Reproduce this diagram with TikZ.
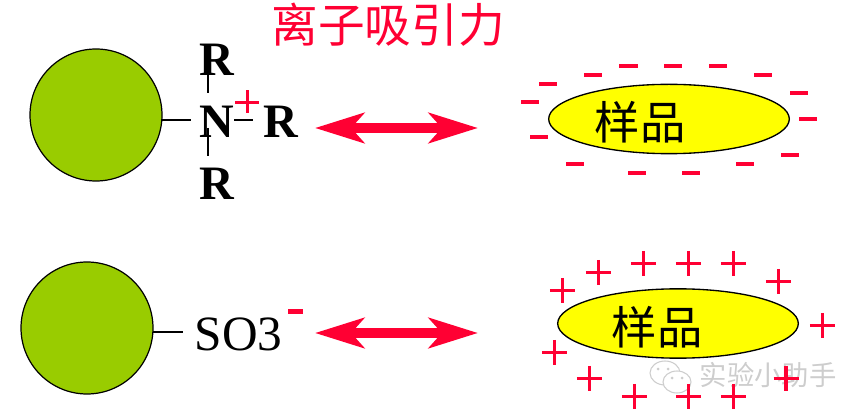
\documentclass[tikz,border=0pt]{standalone}
\usepackage{fontspec}
\setmainfont{Liberation Serif}
\newfontfamily\cjk{Noto Sans CJK SC}
\usetikzlibrary{arrows.meta,shapes.geometric}
\definecolor{ballgreen}{RGB}{153,204,0}
\definecolor{ionred}{RGB}{255,0,51}
\definecolor{markgray}{RGB}{205,205,205}
\definecolor{sampleyellow}{RGB}{255,255,0}
\tikzset{
  x=0.75pt,y=-0.75pt,
  ball/.style={circle,draw=black,line width=0.9pt,fill=ballgreen,minimum size=99pt,inner sep=0pt},
  sample/.style={ellipse,draw=black,line width=1pt,fill=sampleyellow,minimum width=180.5pt,minimum height=52pt,inner sep=0pt},
  bond/.style={draw=black,line width=1pt},
  atom/.style={font=\fontsize{36pt}{36pt}\selectfont\bfseries,inner sep=0pt,text=black},
  sampletext/.style={font=\cjk\fontsize{34pt}{34pt}\selectfont,inner sep=0pt,text=black},
  twoway/.style={draw=ionred,line width=7.5pt,{Stealth[length=36.75pt,width=22.5pt,inset=9.75pt]}-{Stealth[length=36.75pt,width=22.5pt,inset=9.75pt]}},
  minusmark/.style={rectangle,fill=ionred,minimum width=14.2pt,minimum height=3.2pt,inner sep=0pt},
  plusmark/.style={draw=ionred,line width=2.5pt},
}
\newcommand{\plusat}[2]{\draw[plusmark] (#1-12.5,#2) -- (#1+12.5,#2) (#1,#2-12.5) -- (#1,#2+12.5);}
\begin{document}
\begin{tikzpicture}
\useasboundingbox (0,0) rectangle (864,420);
% title
\node[font=\cjk\fontsize{35pt}{35pt}\selectfont,text=ionred,inner sep=0pt] (title) at (388,25) {离子吸引力};
% top row
\node[ball] (b1) at (96,115) {};
\node[atom] (n) at (216.5,121.5) {N};
\node[atom] (r1) at (217,60) {R};
\node[atom] (r2) at (280.5,121.5) {R};
\node[atom] (r3) at (217,184) {R};
\coordinate (b1e) at (162,120);
\coordinate (n1) at (191,120);
\draw[bond] (b1e) -- (n1);
\coordinate (nt) at (208,93);\coordinate (rt) at (208,75);
\draw[bond] (rt) -- (nt);
\coordinate (nb) at (208,128);\coordinate (rb) at (208,156);
\draw[bond] (nb) -- (rb);
\coordinate (nr) at (234,120);\coordinate (rr) at (253,120);
\draw[bond] (nr) -- (rr);
\draw[plusmark] (235,102.5) -- (259,102.5) (247.5,90.5) -- (247.5,113.5);
\coordinate (a1l) at (315,128);\coordinate (a1r) at (478,128);
\draw[twoway] (a1l) -- (a1r);
\node[sample] (s1) at (669,119) {};
\node[sampletext] (s1t) at (640,122) {样品};
\foreach \px/\py in {628.3/65.7,673/65.7,718/65.7,593/74.7,763/74.7,548/83.7,799/92.7,530/101.7,808/119.3,539/136.7,790/154.7,575/163.7,745/163.7,637/172.7,691/172.7}
  \node[minusmark] at (\px,\py) {};
% bottom row
\node[ball] (b2) at (87,328) {};
\node[font=\fontsize{37pt}{37pt}\selectfont,inner sep=0pt] (so) at (238.5,334.5) {SO3};
\coordinate (b2e) at (153,332);\coordinate (so1) at (183,332);
\draw[bond] (b2e) -- (so1);
\node[minusmark,minimum width=11pt,minimum height=3.4pt] (neg) at (295.5,311.5) {};
\coordinate (a2l) at (315,333);\coordinate (a2r) at (478,333);
\draw[twoway] (a2l) -- (a2r);
\node[sample] (s2) at (678,323.5) {};
\node[sampletext] (s2t) at (657,327) {样品};
% watermark
\node[font=\cjk\fontsize{20.5pt}{20.5pt}\selectfont,text=markgray,inner sep=0pt] (mark) at (768,375) {实验小助手};
\draw[markgray,line width=0.8pt,fill=white] (665,373) ellipse [x radius=15,y radius=12];
\draw[markgray,line width=0.8pt,fill=white] (677,382) ellipse [x radius=14,y radius=11];
\foreach \px/\py in {658/369,668/369,672/378,682/378}
  \fill[markgray] (\px,\py) circle [radius=1.5];
\foreach \px/\py in {643.3/263.3,688.3/263.3,733.3/263.3,598.3/272.3,778.3/281.3,562.3/290.3,822.3/325.3,554.3/352.3,589.3/378.3,634.3/396.3,688.3/396.3,733.3/396.3,786/378.3}
  {\plusat{\px}{\py}}
\end{tikzpicture}
\end{document}
